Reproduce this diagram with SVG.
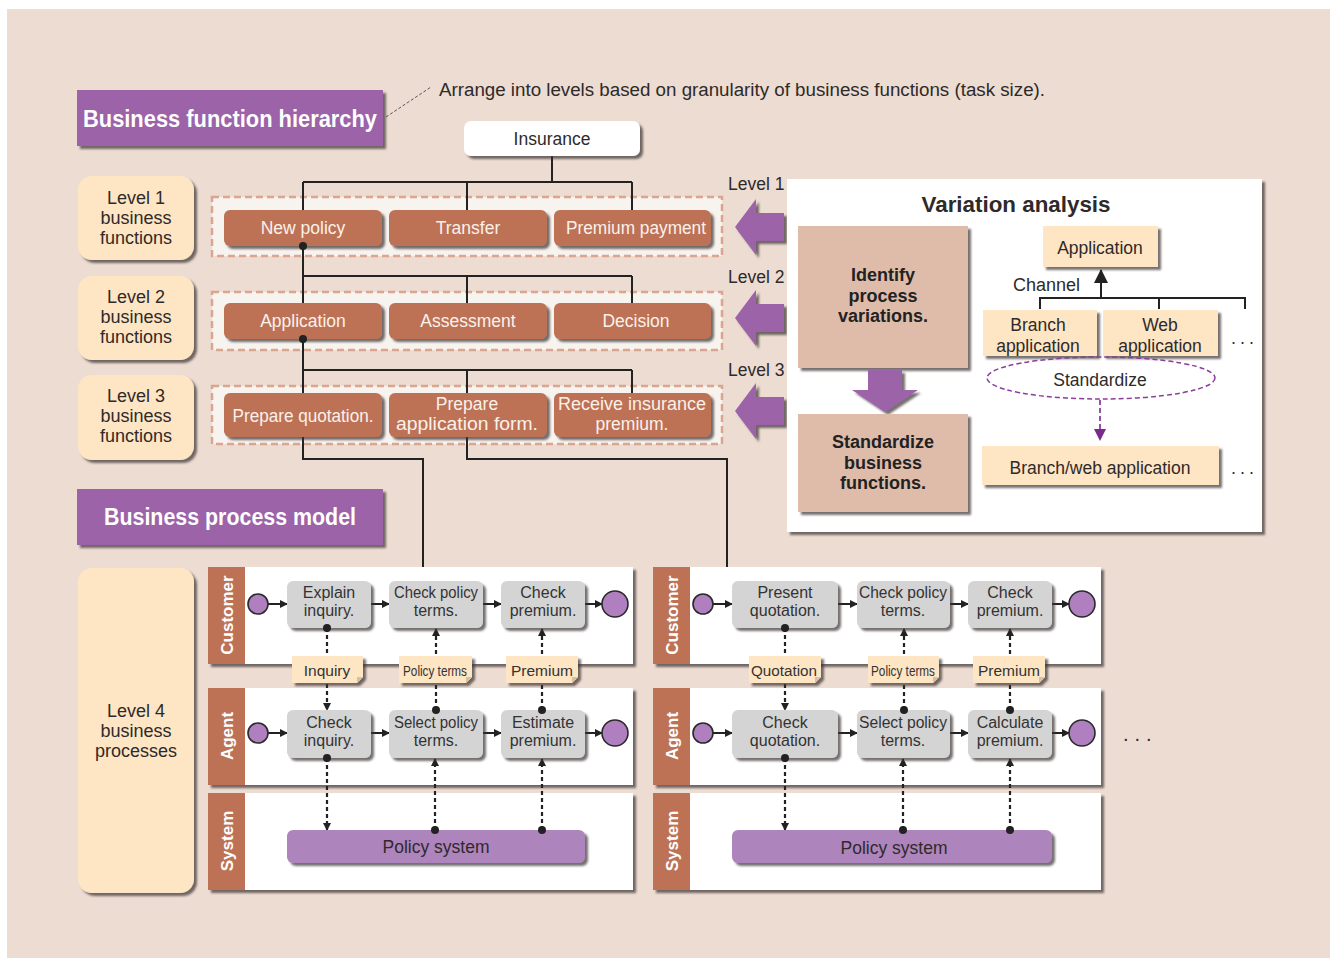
<svg xmlns="http://www.w3.org/2000/svg" width="1330" height="958" viewBox="0 0 1330 958">
  <defs>
    <filter id="sh" x="-10%" y="-10%" width="130%" height="150%">
      <feDropShadow dx="3" dy="3" stdDeviation="1.2" flood-color="#3d3535" flood-opacity="0.7"/>
    </filter>
    <marker id="ahS" markerUnits="userSpaceOnUse" markerWidth="8" markerHeight="8" refX="7" refY="4" orient="auto">
      <path d="M0,0 L8,4 L0,8 z" fill="#222"/>
    </marker>
    <marker id="ahB" markerUnits="userSpaceOnUse" markerWidth="14" markerHeight="14" refX="13" refY="7" orient="auto">
      <path d="M0,0 L14,7 L0,14 z" fill="#222"/>
    </marker>
    <marker id="ahP" markerUnits="userSpaceOnUse" markerWidth="12" markerHeight="12" refX="11" refY="6" orient="auto">
      <path d="M0,0 L12,6 L0,12 z" fill="#7a2a8c"/>
    </marker>
    <style>
      text { font-family: 'Liberation Sans', Arial, sans-serif; fill: #2e2a2a; }
      .bg { fill: #ecdcd2; }
      .title { fill: #9c63a8; }
      .titletxt { fill: #fff; font-weight: bold; font-size: 23px; }
      .lvl { fill: #fee5c4; }
      .lvltxt { font-size: 18px; text-anchor: middle; }
      .band { fill: #f7f3ef; stroke: #dca590; stroke-width: 2.5; stroke-dasharray: 7 4; }
      .fn { fill: #bd7256; }
      .fntxt { fill: #fbf1ea; font-size: 17.5px; text-anchor: middle; }
      .ln { fill: none; stroke: #222; stroke-width: 2; }
      .dl { fill: none; stroke: #222; stroke-width: 2.2; stroke-dasharray: 4 3; }
      .dot { fill: #222; }
      .arrowP { fill: #9c63a8; }
      .panel { fill: #fff; }
      .tan { fill: #dfbcaa; }
      .boldtxt { font-weight: bold; font-size: 18px; text-anchor: middle; fill: #222; }
      .cream { fill: #fee5c4; }
      .mid { text-anchor: middle; font-size: 17.5px; }
      .dots { font-size: 18px; letter-spacing: 4px; }
      .lane { fill: #fff; }
      .hdr { fill: #bd7256; }
      .hdrtxt { fill: #fff; font-weight: bold; font-size: 17px; text-anchor: middle; }
      .task { fill: #d4d4d4; }
      .tasktxt { font-size: 16px; text-anchor: middle; fill: #333; }
      .note { fill: #fee5c4; }
      .fold { fill: #d9bfa0; }
      .notetxt { font-size: 15.5px; text-anchor: middle; fill: #333; }
      .ev { fill: #b07fbf; stroke: #2a2a2a; stroke-width: 1.6; }
      .sys { fill: #ae84bd; }
    </style>
  </defs>

  <!-- page background -->
  <rect x="0" y="0" width="1330" height="958" fill="#fff"/>
  <rect class="bg" x="7" y="9" width="1323" height="949"/>

  <!-- section headings -->
  <g id="heading-hierarchy">
    <rect class="title" x="77" y="90" width="306" height="56" filter="url(#sh)"/>
    <text class="titletxt" x="83" y="127" textLength="294" lengthAdjust="spacingAndGlyphs">Business function hierarchy</text>
  </g>
  <g id="note-levels">
    <line x1="386" y1="117" x2="431" y2="87" stroke="#555" stroke-width="1" stroke-dasharray="3 2"/>
    <text x="439" y="96" font-size="18" textLength="606" lengthAdjust="spacingAndGlyphs">Arrange into levels based on granularity of business functions (task size).</text>
  </g>
  <g id="heading-process">
    <rect class="title" x="77" y="489" width="306" height="56" filter="url(#sh)"/>
    <text class="titletxt" x="104" y="525" textLength="252" lengthAdjust="spacingAndGlyphs">Business process model</text>
  </g>

  <!-- level labels on the left -->
  <g id="level1-label">
    <rect class="lvl" x="78" y="176" width="116" height="84" rx="14" filter="url(#sh)"/>
    <text class="lvltxt" x="136" y="204">Level 1<tspan x="136" dy="20.2">business</tspan><tspan x="136" dy="20.2">functions</tspan></text>
  </g>
  <g id="level2-label">
    <rect class="lvl" x="78" y="276" width="116" height="84" rx="14" filter="url(#sh)"/>
    <text class="lvltxt" x="136" y="303">Level 2<tspan x="136" dy="20.2">business</tspan><tspan x="136" dy="20.2">functions</tspan></text>
  </g>
  <g id="level3-label">
    <rect class="lvl" x="78" y="375" width="116" height="85" rx="14" filter="url(#sh)"/>
    <text class="lvltxt" x="136" y="402">Level 3<tspan x="136" dy="20.2">business</tspan><tspan x="136" dy="20.2">functions</tspan></text>
  </g>
  <g id="level4-label">
    <rect class="lvl" x="78" y="568" width="116" height="325" rx="14" filter="url(#sh)"/>
    <text class="lvltxt" x="136" y="717">Level 4<tspan x="136" dy="20.2">business</tspan><tspan x="136" dy="20.2">processes</tspan></text>
  </g>

  <!-- dashed level bands -->
  <g id="bands">
    <rect class="band" x="212" y="197" width="510" height="59"/>
    <rect class="band" x="212" y="292" width="510" height="58"/>
    <rect class="band" x="212" y="386" width="510" height="58"/>
  </g>

  <!-- hierarchy connectors -->
  <g id="hierarchy-connectors">
    <path class="ln" d="M552,156 V182 M303,182 H632 M303,182 V210 M467,182 V210 M632,182 V210"/>
    <path class="ln" d="M303,246 V303 M303,276 H632 M467,276 V303 M632,276 V303"/>
    <path class="ln" d="M303,339 V393 M303,370 H632 M467,370 V393 M632,370 V393"/>
    <path class="ln" d="M303,437 V459 H423 V567"/>
    <path class="ln" d="M467,437 V459 H727 V567"/>
  </g>

  <g id="insurance">
    <rect x="464" y="121" width="176" height="35" rx="7" fill="#fff" filter="url(#sh)"/>
    <text class="mid" x="552" y="145" font-size="18">Insurance</text>
  </g>

  <!-- level 1 functions -->
  <g id="fn-new-policy">
    <rect class="fn" x="224" y="210" width="158" height="36" rx="6" filter="url(#sh)"/>
    <text class="fntxt" x="303" y="234" font-size="18.5">New policy</text>
  </g>
  <g id="fn-transfer">
    <rect class="fn" x="389" y="210" width="158" height="36" rx="6" filter="url(#sh)"/>
    <text class="fntxt" x="468" y="234" font-size="18.5">Transfer</text>
  </g>
  <g id="fn-premium-payment">
    <rect class="fn" x="554" y="210" width="157" height="36" rx="6" filter="url(#sh)"/>
    <text class="fntxt" x="636" y="234" textLength="140" lengthAdjust="spacingAndGlyphs">Premium payment</text>
  </g>

  <!-- level 2 functions -->
  <g id="fn-application">
    <rect class="fn" x="224" y="303" width="158" height="36" rx="6" filter="url(#sh)"/>
    <text class="fntxt" x="303" y="327" font-size="18.5">Application</text>
  </g>
  <g id="fn-assessment">
    <rect class="fn" x="389" y="303" width="158" height="36" rx="6" filter="url(#sh)"/>
    <text class="fntxt" x="468" y="327" font-size="18.5">Assessment</text>
  </g>
  <g id="fn-decision">
    <rect class="fn" x="554" y="303" width="157" height="36" rx="6" filter="url(#sh)"/>
    <text class="fntxt" x="636" y="327" font-size="18.5">Decision</text>
  </g>

  <!-- level 3 functions -->
  <g id="fn-prepare-quotation">
    <rect class="fn" x="224" y="393" width="158" height="44" rx="6" filter="url(#sh)"/>
    <text class="fntxt" x="303" y="422" textLength="141" lengthAdjust="spacingAndGlyphs">Prepare quotation.</text>
  </g>
  <g id="fn-prepare-application-form">
    <rect class="fn" x="389" y="393" width="158" height="44" rx="6" filter="url(#sh)"/>
    <text class="fntxt" x="467" y="410">Prepare<tspan x="467" dy="20" textLength="142" lengthAdjust="spacingAndGlyphs">application form.</tspan></text>
  </g>
  <g id="fn-receive-premium">
    <rect class="fn" x="554" y="393" width="157" height="44" rx="6" filter="url(#sh)"/>
    <text class="fntxt" x="632" y="410"><tspan textLength="148" lengthAdjust="spacingAndGlyphs">Receive insurance</tspan><tspan x="632" dy="20">premium.</tspan></text>
  </g>

  <!-- connector dots on hierarchy -->
  <g id="hierarchy-dots">
    <circle class="dot" cx="303" cy="246" r="4"/>
    <circle class="dot" cx="303" cy="339" r="4"/>
  </g>

  <!-- level arrows -->
  <g id="level-arrows">
    <text x="728" y="190" font-size="17.5">Level 1</text>
    <text x="728" y="283" font-size="17.5">Level 2</text>
    <text x="728" y="376" font-size="17.5">Level 3</text>
    <path class="arrowP" filter="url(#sh)" d="M735,227 L756,199 V213 H784 V241 H756 V255 Z"/>
    <path class="arrowP" filter="url(#sh)" d="M735,318 L756,290 V304 H784 V332 H756 V346 Z"/>
    <path class="arrowP" filter="url(#sh)" d="M735,411 L756,383 V397 H784 V425 H756 V439 Z"/>
  </g>

  <!-- variation analysis panel -->
  <g id="variation-analysis">
    <rect class="panel" x="787" y="179" width="475" height="353" filter="url(#sh)"/>
    <text x="1016" y="212" font-size="22" font-weight="bold" text-anchor="middle" fill="#222" textLength="189" lengthAdjust="spacingAndGlyphs">Variation analysis</text>
  </g>
  <g id="identify-variations">
    <rect class="tan" x="798" y="226" width="170" height="142" filter="url(#sh)"/>
    <text class="boldtxt" x="883" y="281">Identify<tspan x="883" dy="20.5">process</tspan><tspan x="883" dy="20.5">variations.</tspan></text>
  </g>
  <g id="down-arrow">
    <path class="arrowP" filter="url(#sh)" d="M868,370 H902 V390 H918 L885,412 L852,390 H868 Z"/>
  </g>
  <g id="standardize-functions">
    <rect class="tan" x="798" y="414" width="170" height="98" filter="url(#sh)"/>
    <text class="boldtxt" x="883" y="448">Standardize<tspan x="883" dy="20.5">business</tspan><tspan x="883" dy="20.5">functions.</tspan></text>
  </g>
  <g id="variation-connectors">
    <path class="ln" d="M1040,309 V298 H1245 V309 M1159,298 V309"/>
    <line x1="1101" y1="298" x2="1101" y2="270" stroke="#222" stroke-width="2" marker-end="url(#ahB)"/>
    <line x1="1100" y1="400" x2="1100" y2="440" stroke="#7a2a8c" stroke-width="1.6" stroke-dasharray="5 3" marker-end="url(#ahP)"/>
  </g>
  <g id="va-application">
    <rect class="cream" x="1043" y="226" width="115" height="41" filter="url(#sh)"/>
    <text class="mid" x="1100" y="254" font-size="18.5">Application</text>
  </g>
  <text x="1013" y="291" font-size="18">Channel</text>
  <g id="va-branch">
    <rect class="cream" x="983" y="310" width="114" height="46" filter="url(#sh)"/>
    <text class="mid" x="1038" y="331" font-size="18.5">Branch<tspan x="1038" dy="21">application</tspan></text>
  </g>
  <g id="va-web">
    <rect class="cream" x="1103" y="310" width="115" height="46" filter="url(#sh)"/>
    <text class="mid" x="1160" y="331" font-size="18.5">Web<tspan x="1160" dy="21">application</tspan></text>
  </g>
  <text class="dots" x="1231" y="344">...</text>
  <g id="va-standardize">
    <ellipse cx="1101" cy="378" rx="114" ry="21" fill="none" stroke="#8a3d9c" stroke-width="1.5" stroke-dasharray="5 3"/>
    <text class="mid" x="1100" y="386" font-size="18">Standardize</text>
  </g>
  <g id="va-branch-web">
    <rect class="cream" x="982" y="446" width="237" height="39" filter="url(#sh)"/>
    <text class="mid" x="1100" y="474" font-size="18.5">Branch/web application</text>
  </g>
  <text class="dots" x="1231" y="474">...</text>

  <!-- ===== swimlanes, left process ===== -->
  <g id="left-customer-lane">
    <rect class="lane" x="208" y="567" width="425" height="97" filter="url(#sh)"/>
    <rect class="hdr" x="208" y="567" width="37" height="97"/>
    <text class="hdrtxt" transform="translate(233,615) rotate(-90)">Customer</text>
  </g>
  <g id="left-agent-lane">
    <rect class="lane" x="208" y="688" width="425" height="97" filter="url(#sh)"/>
    <rect class="hdr" x="208" y="688" width="37" height="97"/>
    <text class="hdrtxt" transform="translate(233,736) rotate(-90)">Agent</text>
  </g>
  <g id="left-system-lane">
    <rect class="lane" x="208" y="793" width="425" height="97" filter="url(#sh)"/>
    <rect class="hdr" x="208" y="793" width="37" height="97"/>
    <text class="hdrtxt" transform="translate(233,841) rotate(-90)">System</text>
  </g>

  <!-- ===== swimlanes, right process ===== -->
  <g id="right-customer-lane">
    <rect class="lane" x="653" y="567" width="448" height="97" filter="url(#sh)"/>
    <rect class="hdr" x="653" y="567" width="37" height="97"/>
    <text class="hdrtxt" transform="translate(678,615) rotate(-90)">Customer</text>
  </g>
  <g id="right-agent-lane">
    <rect class="lane" x="653" y="688" width="448" height="97" filter="url(#sh)"/>
    <rect class="hdr" x="653" y="688" width="37" height="97"/>
    <text class="hdrtxt" transform="translate(678,736) rotate(-90)">Agent</text>
  </g>
  <g id="right-system-lane">
    <rect class="lane" x="653" y="793" width="448" height="97" filter="url(#sh)"/>
    <rect class="hdr" x="653" y="793" width="37" height="97"/>
    <text class="hdrtxt" transform="translate(678,841) rotate(-90)">System</text>
  </g>

  <!-- process connectors -->
  <g id="process-connectors">
    <!-- sequence flows, left -->
    <line class="ln" x1="268" y1="604" x2="287" y2="604" marker-end="url(#ahS)"/>
    <line class="ln" x1="371" y1="604" x2="389" y2="604" marker-end="url(#ahS)"/>
    <line class="ln" x1="483" y1="604" x2="501" y2="604" marker-end="url(#ahS)"/>
    <line class="ln" x1="585" y1="604" x2="602" y2="604" marker-end="url(#ahS)"/>
    <line class="ln" x1="268" y1="733" x2="287" y2="733" marker-end="url(#ahS)"/>
    <line class="ln" x1="371" y1="733" x2="389" y2="733" marker-end="url(#ahS)"/>
    <line class="ln" x1="483" y1="733" x2="501" y2="733" marker-end="url(#ahS)"/>
    <line class="ln" x1="585" y1="733" x2="602" y2="733" marker-end="url(#ahS)"/>
    <!-- sequence flows, right -->
    <line class="ln" x1="713" y1="604" x2="732" y2="604" marker-end="url(#ahS)"/>
    <line class="ln" x1="838" y1="604" x2="857" y2="604" marker-end="url(#ahS)"/>
    <line class="ln" x1="950" y1="604" x2="968" y2="604" marker-end="url(#ahS)"/>
    <line class="ln" x1="1052" y1="604" x2="1069" y2="604" marker-end="url(#ahS)"/>
    <line class="ln" x1="713" y1="733" x2="732" y2="733" marker-end="url(#ahS)"/>
    <line class="ln" x1="838" y1="733" x2="857" y2="733" marker-end="url(#ahS)"/>
    <line class="ln" x1="950" y1="733" x2="968" y2="733" marker-end="url(#ahS)"/>
    <line class="ln" x1="1052" y1="733" x2="1069" y2="733" marker-end="url(#ahS)"/>

    <!-- message / data flows, left -->
    <line class="dl" x1="327" y1="628" x2="327" y2="710" marker-end="url(#ahS)"/>
    <line class="dl" x1="436" y1="710" x2="436" y2="629" marker-end="url(#ahS)"/>
    <line class="dl" x1="542" y1="710" x2="542" y2="629" marker-end="url(#ahS)"/>
    <line class="dl" x1="327" y1="758" x2="327" y2="830" marker-end="url(#ahS)"/>
    <line class="dl" x1="435" y1="830" x2="435" y2="759" marker-end="url(#ahS)"/>
    <line class="dl" x1="542" y1="830" x2="542" y2="759" marker-end="url(#ahS)"/>
    <!-- message / data flows, right -->
    <line class="dl" x1="785" y1="628" x2="785" y2="710" marker-end="url(#ahS)"/>
    <line class="dl" x1="904" y1="710" x2="904" y2="629" marker-end="url(#ahS)"/>
    <line class="dl" x1="1010" y1="710" x2="1010" y2="629" marker-end="url(#ahS)"/>
    <line class="dl" x1="785" y1="758" x2="785" y2="830" marker-end="url(#ahS)"/>
    <line class="dl" x1="903" y1="830" x2="903" y2="759" marker-end="url(#ahS)"/>
    <line class="dl" x1="1010" y1="830" x2="1010" y2="759" marker-end="url(#ahS)"/>
  </g>

  <!-- events -->
  <g id="events">
    <circle class="ev" cx="258" cy="604" r="10"/>
    <circle class="ev" cx="615" cy="604" r="13"/>
    <circle class="ev" cx="258" cy="733" r="10"/>
    <circle class="ev" cx="615" cy="733" r="13"/>
    <circle class="ev" cx="703" cy="604" r="10"/>
    <circle class="ev" cx="1082" cy="604" r="13"/>
    <circle class="ev" cx="703" cy="733" r="10"/>
    <circle class="ev" cx="1082" cy="733" r="13"/>
  </g>

  <!-- left tasks -->
  <g id="task-explain-inquiry">
    <rect class="task" x="287" y="581" width="84" height="47" rx="6" filter="url(#sh)"/>
    <text class="tasktxt" x="329" y="598">Explain<tspan x="329" dy="18">inquiry.</tspan></text>
  </g>
  <g id="task-check-policy-terms-l">
    <rect class="task" x="389" y="581" width="94" height="47" rx="6" filter="url(#sh)"/>
    <text class="tasktxt" x="436" y="598"><tspan textLength="84" lengthAdjust="spacingAndGlyphs">Check policy</tspan><tspan x="436" dy="18">terms.</tspan></text>
  </g>
  <g id="task-check-premium-l">
    <rect class="task" x="501" y="581" width="84" height="47" rx="6" filter="url(#sh)"/>
    <text class="tasktxt" x="543" y="598">Check<tspan x="543" dy="18">premium.</tspan></text>
  </g>
  <g id="task-check-inquiry">
    <rect class="task" x="287" y="710" width="84" height="48" rx="6" filter="url(#sh)"/>
    <text class="tasktxt" x="329" y="728">Check<tspan x="329" dy="18">inquiry.</tspan></text>
  </g>
  <g id="task-select-policy-terms-l">
    <rect class="task" x="389" y="710" width="94" height="48" rx="6" filter="url(#sh)"/>
    <text class="tasktxt" x="436" y="728"><tspan textLength="84" lengthAdjust="spacingAndGlyphs">Select policy</tspan><tspan x="436" dy="18">terms.</tspan></text>
  </g>
  <g id="task-estimate-premium">
    <rect class="task" x="501" y="710" width="84" height="48" rx="6" filter="url(#sh)"/>
    <text class="tasktxt" x="543" y="728">Estimate<tspan x="543" dy="18">premium.</tspan></text>
  </g>
  <g id="policy-system-l">
    <rect class="sys" x="287" y="830" width="298" height="33" rx="6" filter="url(#sh)"/>
    <text class="mid" x="436" y="853" font-size="17.5">Policy system</text>
  </g>

  <!-- right tasks -->
  <g id="task-present-quotation">
    <rect class="task" x="732" y="581" width="106" height="47" rx="6" filter="url(#sh)"/>
    <text class="tasktxt" x="785" y="598">Present<tspan x="785" dy="18">quotation.</tspan></text>
  </g>
  <g id="task-check-policy-terms-r">
    <rect class="task" x="857" y="581" width="93" height="47" rx="6" filter="url(#sh)"/>
    <text class="tasktxt" x="903" y="598"><tspan textLength="88" lengthAdjust="spacingAndGlyphs">Check policy</tspan><tspan x="903" dy="18">terms.</tspan></text>
  </g>
  <g id="task-check-premium-r">
    <rect class="task" x="968" y="581" width="84" height="47" rx="6" filter="url(#sh)"/>
    <text class="tasktxt" x="1010" y="598">Check<tspan x="1010" dy="18">premium.</tspan></text>
  </g>
  <g id="task-check-quotation">
    <rect class="task" x="732" y="710" width="106" height="48" rx="6" filter="url(#sh)"/>
    <text class="tasktxt" x="785" y="728">Check<tspan x="785" dy="18">quotation.</tspan></text>
  </g>
  <g id="task-select-policy-terms-r">
    <rect class="task" x="857" y="710" width="93" height="48" rx="6" filter="url(#sh)"/>
    <text class="tasktxt" x="903" y="728"><tspan textLength="88" lengthAdjust="spacingAndGlyphs">Select policy</tspan><tspan x="903" dy="18">terms.</tspan></text>
  </g>
  <g id="task-calculate-premium">
    <rect class="task" x="968" y="710" width="84" height="48" rx="6" filter="url(#sh)"/>
    <text class="tasktxt" x="1010" y="728">Calculate<tspan x="1010" dy="18">premium.</tspan></text>
  </g>
  <g id="policy-system-r">
    <rect class="sys" x="732" y="830" width="320" height="33" rx="6" filter="url(#sh)"/>
    <text class="mid" x="894" y="854" font-size="17.5">Policy system</text>
  </g>

  <!-- data notes -->
  <g id="note-inquiry">
    <path class="note" filter="url(#sh)" d="M292,656 H363 V677 L357,683 H292 Z"/>
    <path class="fold" d="M363,677 L357,677 L357,683 Z"/>
    <text class="notetxt" x="327" y="676" font-size="16.5">Inquiry</text>
  </g>
  <g id="note-policy-terms-l">
    <path class="note" filter="url(#sh)" d="M399,656 H472 V677 L466,683 H399 Z"/>
    <path class="fold" d="M472,677 L466,677 L466,683 Z"/>
    <text class="notetxt" x="435" y="676" font-size="15" textLength="64" lengthAdjust="spacingAndGlyphs">Policy terms</text>
  </g>
  <g id="note-premium-l">
    <path class="note" filter="url(#sh)" d="M506,656 H578 V677 L572,683 H506 Z"/>
    <path class="fold" d="M578,677 L572,677 L572,683 Z"/>
    <text class="notetxt" x="542" y="676" font-size="16.5">Premium</text>
  </g>
  <g id="note-quotation">
    <path class="note" filter="url(#sh)" d="M749,656 H821 V677 L815,683 H749 Z"/>
    <path class="fold" d="M821,677 L815,677 L815,683 Z"/>
    <text class="notetxt" x="784" y="676" textLength="66" lengthAdjust="spacingAndGlyphs">Quotation</text>
  </g>
  <g id="note-policy-terms-r">
    <path class="note" filter="url(#sh)" d="M868,656 H939 V677 L933,683 H868 Z"/>
    <path class="fold" d="M939,677 L933,677 L933,683 Z"/>
    <text class="notetxt" x="903" y="676" font-size="15" textLength="64" lengthAdjust="spacingAndGlyphs">Policy terms</text>
  </g>
  <g id="note-premium-r">
    <path class="note" filter="url(#sh)" d="M973,656 H1045 V677 L1039,683 H973 Z"/>
    <path class="fold" d="M1045,677 L1039,677 L1039,683 Z"/>
    <text class="notetxt" x="1009" y="676" font-size="16.5">Premium</text>
  </g>

  <!-- connector end dots -->
  <g id="flow-dots">
    <circle class="dot" cx="327" cy="628" r="4"/>
    <circle class="dot" cx="436" cy="710" r="4"/>
    <circle class="dot" cx="542" cy="710" r="4"/>
    <circle class="dot" cx="327" cy="758" r="4"/>
    <circle class="dot" cx="435" cy="830" r="4"/>
    <circle class="dot" cx="542" cy="830" r="4"/>
    <circle class="dot" cx="785" cy="628" r="4"/>
    <circle class="dot" cx="904" cy="710" r="4"/>
    <circle class="dot" cx="1010" cy="710" r="4"/>
    <circle class="dot" cx="785" cy="758" r="4"/>
    <circle class="dot" cx="903" cy="830" r="4"/>
    <circle class="dot" cx="1010" cy="830" r="4"/>
  </g>

  <text x="1123" y="741" font-size="20" letter-spacing="6">...</text>
</svg>
